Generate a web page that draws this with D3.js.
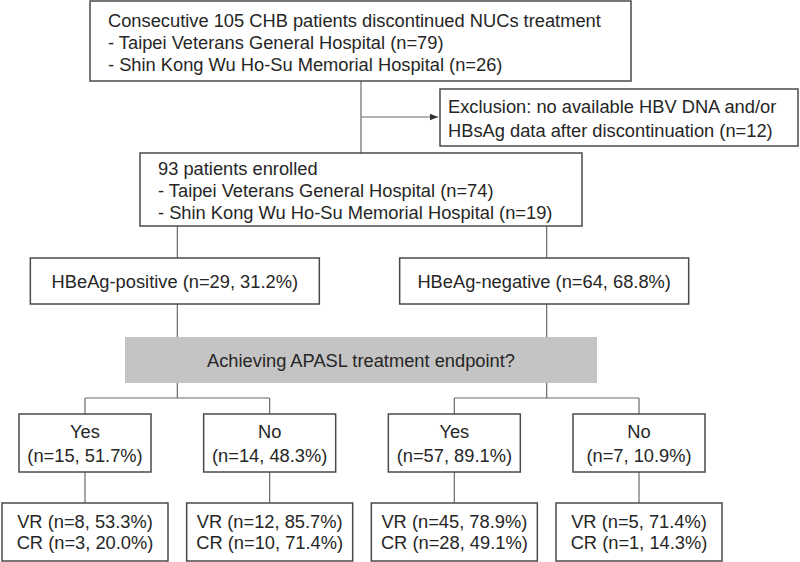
<!DOCTYPE html>
<html>
<head>
<meta charset="utf-8">
<script src="https://cdn.jsdelivr.net/npm/d3@7"></script>
<style>
  body { margin: 0; background: #fff; }
  text { font-family: "Liberation Sans", Arial, sans-serif; font-size: 18.3px; fill: #262626; }
</style>
</head>
<body>
<div id="chart"></div>
<script>
// flow chart data
var topLines = ["Consecutive 105 CHB patients discontinued NUCs treatment",
                "- Taipei Veterans General Hospital (n=79)",
                "- Shin Kong Wu Ho-Su Memorial Hospital (n=26)"];
var exclLines = ["Exclusion: no available HBV DNA and/or",
                 "HBsAg data after discontinuation (n=12)"];
var enrolLines = ["93 patients enrolled",
                  "- Taipei Veterans General Hospital (n=74)",
                  "- Shin Kong Wu Ho-Su Memorial Hospital (n=19)"];
var groups = ["HBeAg-positive", "HBeAg-negative"];
var groupN = [29, 64];
var groupPct = ["31.2", "68.8"];
var question = "Achieving APASL treatment endpoint?";
var answers = ["Yes", "No", "Yes", "No"];
var answerN = [15, 14, 57, 7];
var answerPct = ["51.7", "48.3", "89.1", "10.9"];
var vrN = [8, 12, 45, 5];
var vrPct = ["53.3", "85.7", "78.9", "71.4"];
var crN = [3, 10, 28, 1];
var crPct = ["20.0", "71.4", "49.1", "14.3"];

var W = 800, H = 562;
var LINE = "#6a6a6a";
var BOX = "#4a4a4a";

var svg = d3.select("#chart").append("svg")
    .attr("width", W).attr("height", H);

var defs = svg.append("defs");
defs.append("marker").attr("id", "arr")
    .attr("viewBox", "0 0 10 10").attr("refX", 10).attr("refY", 5)
    .attr("markerWidth", 7).attr("markerHeight", 7).attr("orient", "auto")
    .append("path").attr("d", "M0,1 L10,5 L0,9 Z").attr("fill", "#333");

// x positions of leaves and groups
var leafX = d3.scalePoint().domain(d3.range(4)).range([85, 639]);
var groupX = function(g){ return (leafX(g * 2) + leafX(g * 2 + 1)) / 2; };
var midX = 361;

function line(x1, y1, x2, y2){
    return svg.append("line")
        .attr("x1", x1).attr("y1", y1).attr("x2", x2).attr("y2", y2)
        .attr("stroke", LINE).attr("stroke-width", 1.2);
}

function box(x, y, w, h, fill){
    svg.append("rect")
        .attr("x", x).attr("y", y).attr("width", w).attr("height", h)
        .attr("fill", fill || "#fff")
        .attr("stroke", fill ? "none" : BOX).attr("stroke-width", 1.5);
}

function lines(arr, x, y0, dy, anchor){
    var t = svg.append("text").attr("text-anchor", anchor || "start");
    arr.forEach(function(s, i){
        t.append("tspan").attr("x", x).attr("y", y0 + i * dy).text(s);
    });
}

// connectors first
line(midX, 81, midX, 153);
line(midX, 117, 438, 117).attr("marker-end", "url(#arr)");
[0, 1].forEach(function(g){
    var gx = groupX(g);
    line(gx, 226, gx, 258);
    line(gx, 304, gx, 337);
    line(gx, 383, gx, 398);
    line(leafX(g * 2), 398, leafX(g * 2 + 1), 398);
});
d3.range(4).forEach(function(i){
    line(leafX(i), 398, leafX(i), 414);
    line(leafX(i), 472, leafX(i), 503);
});

// top box
box(90, 1, 541, 80);
lines(topLines, 108, 27, 22);

// exclusion
box(440, 89, 358, 57);
lines(exclLines, 448, 113, 23.5);

// enrolled
box(140, 153, 442, 73);
lines(enrolLines, 158, 175, 22);

// HBeAg groups
groups.forEach(function(g, i){
    var cx = groupX(i) - 2.5;
    box(cx - 144.5, 258, 289, 46);
    lines([g + " (n=" + groupN[i] + ", " + groupPct[i] + "%)"], cx, 288, 0, "middle");
});

// question
box(125, 337, 472, 46, "#c4c4c4");
lines([question], midX, 367, 0, "middle");

// answers and outcomes
d3.range(4).forEach(function(i){
    var cx = leafX(i);
    box(cx - 66, 414, 132, 58);
    lines([answers[i], "(n=" + answerN[i] + ", " + answerPct[i] + "%)"], cx, 438, 24, "middle");
    box(cx - 83, 503, 166, 58);
    lines(["VR (n=" + vrN[i] + ", " + vrPct[i] + "%)",
           "CR (n=" + crN[i] + ", " + crPct[i] + "%)"], cx, 528, 21, "middle");
});
</script>
</body>
</html>
